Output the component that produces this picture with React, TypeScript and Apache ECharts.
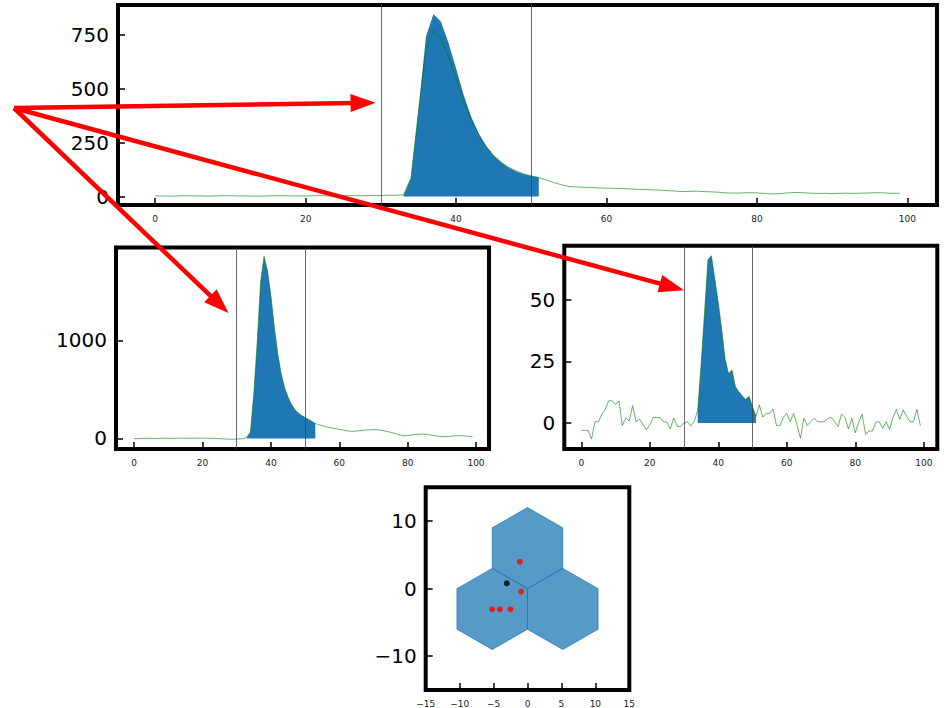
import React, { useEffect, useRef } from 'react';
import * as echarts from 'echarts';

// ---------- data ----------
// top panel: sample index 0..99
const topSignal: number[] = [
  3, 3, 2, 3, 4, 3, 3, 2, 3, 4, 4, 3, 3, 2, 2, 3, 4, 4, 3, 3, 3, 4, 4, 3, 3, 4, 5, 4, 4, 5, 5, 6, 6,
  8,
  85, 394, 680, 769, 735, 650, 549, 441, 356, 286, 232, 190, 160, 136, 119, 105, 96, 88, 77,
  65, 55, 47, 45, 43, 42, 40, 39, 38, 37, 36, 34, 33, 31, 30, 28, 26, 23, 24, 25, 23, 22, 20, 17, 16,
  17, 18, 17, 14, 12, 13, 17, 19, 18, 16, 15, 15, 14, 15, 16, 15, 16, 17, 18, 17, 15, 16,
];
const TOP_FILL_START = 33;
const topFill: number[] = [3, 85, 398, 742, 846, 810, 712, 595, 472, 371, 294, 234, 190, 158, 134, 116, 104, 95, 88];

// middle-left panel
const midLeftSignal: number[] = [
  -3, -2, -1, 0, 1, 0, -1, 0, 1, 2, 1, 0, 1, 2, 3, 2, 1, 2, 3, 3, 3, 2, 1, 0, -1, -3, -5, -7, -8, -8, -7, -5, -2,
  15, 60, 450, 980, 1593, 1855, 1712, 1458, 1135, 865, 661, 519, 423, 349, 295, 260, 234, 214, 193, 173, 152,
  140, 130, 120, 112, 104, 98, 92, 86, 80, 74, 72, 76, 80, 83, 85, 88, 90, 88, 84, 78, 70, 62, 54, 44, 32,
  26, 30, 34, 38, 42, 44, 42, 38, 33, 27, 22, 18, 17, 20, 24, 27, 28, 27, 24, 20, 17,
];
const MID_LEFT_FILL: [number, number] = [33, 53];

// middle-right panel
const midRightSignal: number[] = [
  -3, -3, -3, -6.5, 0.5, 0.5, 3.5, 5.5, 9, 9, 7.5, 9, -1, 2, 0.8, 7, 0.5, 1.5, -0.5, -2.8,
  -0.8, 2.2, 2.2, 2.2, 0.5, 0.3, -2.5, 2, -1.3, -1.5, 0, 0.5, -1.2, 0.8,
  5, 24, 45, 66.5, 68, 58.5, 49, 38, 26, 20, 21.5, 14.8, 12.7, 11, 9.5, 10.8, 6.6,
  2.6, 7.3, 2.4, 3.9, 3.9, 5.7, -1.1, -1.1, 2.2, 3.9, 0.5, 3.9, -0.8, -6.2, 1.9, -1, 0.5, 1.9, 0.5, 0.5,
  0.5, 1.9, 2.2, 0.5, -1.5, 3.6, 2.2, -2.5, 1.9, -4, 0.3, 3.6, -4.6, -3.3, -3.3, 0.3, 0.5, -2.2, 0.5, -2.6,
  2.2, 5.5, 1.5, 5.3, 2.6, 0.5, 0.5, 5.5, -1.1,
];
const MID_RIGHT_FILL: [number, number] = [34, 51];

const GUIDE_LINES = [30, 50];

// bottom panel: hexagon cells and points
const hexCenterX = [0, -5.196, 5.196];
const hexCenterY = [6, -3, -3];
const HEX_RADIUS = 6;
const redX = [-1.13, -0.94, -5.21, -4.08, -2.51];
const redY = [3.98, -0.44, -3.05, -3.05, -3.05];
const blackX = [-3.05];
const blackY = [0.79];

// ticks
const seriesXTicks = [0, 20, 40, 60, 80, 100];
const topYTicks = [0, 250, 500, 750];
const midLeftYTicks = [0, 1000];
const midRightYTicks = [0, 25, 50];
const hexXTicks = [-15, -10, -5, 0, 5, 10, 15];
const hexYTicks = [-10, 0, 10];

// arrow targets (data coordinates in each panel)
const ARROW_START = [14, 108];
const arrowTargets = [
  { grid: 0, pt: [29.3, 435] },
  { grid: 1, pt: [27.6, 1278] },
  { grid: 2, pt: [30, 54] },
];

const pairs = (arr: number[], start = 0) => arr.map((v, i) => [start + i, v]);
const slicePairs = (arr: number[], range: [number, number]) =>
  arr.slice(range[0], range[1] + 1).map((v, i) => [range[0] + i, v]);

const FONT = 'DejaVu Sans';
const plain = (v: number) => String(v).replace('-', '\u2212');

export default function App() {
  const ref = useRef<HTMLDivElement>(null);

  useEffect(() => {
    if (!ref.current) return;
    const chart = echarts.init(ref.current, null, { renderer: 'svg' });

    const xAx = (gridIndex: number, min: number, max: number, ticks: number[]) => ({
      type: 'value', gridIndex, min, max,
      axisLine: { show: false, onZero: false },
      splitLine: { show: false },
      axisTick: { show: true, inside: true, length: 7, customValues: ticks, lineStyle: { color: '#000', width: 1.5 } },
      axisLabel: {
        show: true, customValues: ticks, margin: 9, fontSize: 9, color: '#222', fontFamily: FONT,
        formatter: plain,
      },
    });
    const yAx = (gridIndex: number, min: number, max: number, ticks: number[]) => ({
      type: 'value', gridIndex, min, max,
      axisLine: { show: false, onZero: false },
      splitLine: { show: false },
      axisTick: { show: true, inside: true, length: 7, customValues: ticks, lineStyle: { color: '#000', width: 1.5 } },
      axisLabel: {
        show: true, customValues: ticks, margin: 9, fontSize: 20, color: '#000', fontFamily: FONT,
        formatter: plain,
      },
    });

    const gridStyle = { show: true, borderColor: '#000', borderWidth: 4, backgroundColor: 'transparent', containLabel: false };

    const guide = {
      silent: true,
      symbol: ['none', 'none'],
      label: { show: false },
      lineStyle: { color: '#444', width: 0.8, type: 'solid' },
      data: GUIDE_LINES.map((x) => ({ xAxis: x })),
    };

    const fillSeries = (idx: number, data: number[][]) => ({
      type: 'line', xAxisIndex: idx, yAxisIndex: idx, data,
      symbol: 'none', showSymbol: false,
      lineStyle: { width: 0 },
      areaStyle: { color: '#1f77b4', opacity: 1, origin: 0 },
      z: 2,
    });
    const signalSeries = (idx: number, data: number[][]) => ({
      type: 'line', xAxisIndex: idx, yAxisIndex: idx, data,
      symbol: 'none', showSymbol: false,
      lineStyle: { width: 1, color: 'rgba(0,128,0,0.6)' },
      markLine: guide,
      z: 3,
    });

    const hexData = hexCenterX.map((x, i) => [x, hexCenterY[i]]);

    chart.setOption({
      animation: false,
      grid: [
        { ...gridStyle, left: 118, top: 5, width: 819, height: 200 },
        { ...gridStyle, left: 116, top: 247.5, width: 373, height: 201.5 },
        { ...gridStyle, left: 564.3, top: 245.7, width: 373, height: 203.3 },
        { ...gridStyle, left: 425.7, top: 487.3, width: 203.6, height: 203.4 },
      ],
      xAxis: [
        xAx(0, -4.95, 103.95, seriesXTicks),
        xAx(1, -5.3, 103.8, seriesXTicks),
        xAx(2, -4.95, 103.95, seriesXTicks),
        xAx(3, -15, 15, hexXTicks),
      ],
      yAxis: [
        yAx(0, -39, 888, topYTicks),
        yAx(1, -108, 1946, midLeftYTicks),
        yAx(2, -10.6, 72.1, midRightYTicks),
        yAx(3, -15, 15, hexYTicks),
      ],
      series: [
        fillSeries(0, pairs(topFill, TOP_FILL_START)),
        signalSeries(0, pairs(topSignal)),
        fillSeries(1, slicePairs(midLeftSignal, MID_LEFT_FILL)),
        signalSeries(1, pairs(midLeftSignal)),
        fillSeries(2, slicePairs(midRightSignal, MID_RIGHT_FILL)),
        signalSeries(2, pairs(midRightSignal)),
        {
          type: 'custom', xAxisIndex: 3, yAxisIndex: 3, data: hexData,
          renderItem: (params: any, api: any) => {
            const cx = api.value(0);
            const cy = api.value(1);
            const pts: number[][] = [];
            for (let k = 0; k < 6; k++) {
              const a = Math.PI / 2 + (k * Math.PI) / 3;
              pts.push(api.coord([cx + HEX_RADIUS * Math.cos(a), cy + HEX_RADIUS * Math.sin(a)]));
            }
            return {
              type: 'polygon',
              shape: { points: pts },
              style: { fill: 'rgba(31,119,180,0.75)', stroke: 'rgba(31,119,180,0.75)', lineWidth: 1 },
            };
          },
          z: 2,
        },
        {
          type: 'scatter', xAxisIndex: 3, yAxisIndex: 3,
          data: redX.map((x, i) => [x, redY[i]]),
          symbolSize: 6, itemStyle: { color: '#ff0000' }, z: 4,
        },
        {
          type: 'scatter', xAxisIndex: 3, yAxisIndex: 3,
          data: blackX.map((x, i) => [x, blackY[i]]),
          symbolSize: 6, itemStyle: { color: '#000' }, z: 4,
        },
      ],
    });

    const HEAD_LEN = 25;
    const HEAD_HALF = 9;
    const graphics: any[] = [];
    arrowTargets.forEach((t) => {
      const tip = chart.convertToPixel({ gridIndex: t.grid } as any, t.pt) as number[];
      const dx = tip[0] - ARROW_START[0];
      const dy = tip[1] - ARROW_START[1];
      const len = Math.sqrt(dx * dx + dy * dy);
      const ux = dx / len;
      const uy = dy / len;
      const bx = tip[0] - ux * HEAD_LEN;
      const by = tip[1] - uy * HEAD_LEN;
      graphics.push({
        type: 'line', z: 100, silent: true,
        shape: { x1: ARROW_START[0], y1: ARROW_START[1], x2: bx + ux * 2, y2: by + uy * 2 },
        style: { stroke: '#ff0000', lineWidth: 4.5 },
      });
      graphics.push({
        type: 'polygon', z: 100, silent: true,
        shape: {
          points: [
            [tip[0], tip[1]],
            [bx - uy * HEAD_HALF, by + ux * HEAD_HALF],
            [bx + uy * HEAD_HALF, by - ux * HEAD_HALF],
          ],
        },
        style: { fill: '#ff0000' },
      });
    });
    chart.setOption({ graphic: graphics });

    return () => chart.dispose();
  }, []);

  return (
    <div
      ref={ref}
      style={{ position: 'absolute', left: 0, top: 0, width: 944, height: 708, background: '#fff' }}
    />
  );
}
